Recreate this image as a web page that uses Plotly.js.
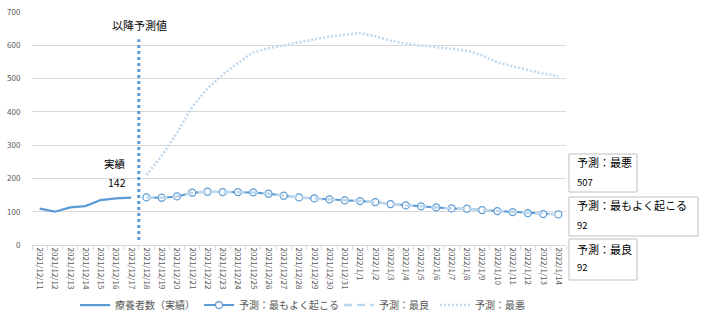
<!DOCTYPE html>
<html><head><meta charset="utf-8">
<script src="https://cdn.plot.ly/plotly-3.0.1.min.js"></script>
<style>html,body{margin:0;padding:0;background:#fff;}#chart{width:706px;height:318px;}</style>
</head><body><div id="chart"></div>
<script>
const dates = ["2021/12/11","2021/12/12","2021/12/13","2021/12/14","2021/12/15","2021/12/16","2021/12/17",
  "2021/12/18","2021/12/19","2021/12/20","2021/12/21","2021/12/22","2021/12/23","2021/12/24","2021/12/25",
  "2021/12/26","2021/12/27","2021/12/28","2021/12/29","2021/12/30","2021/12/31",
  "2022/1/1","2022/1/2","2022/1/3","2022/1/4","2022/1/5","2022/1/6","2022/1/7","2022/1/8","2022/1/9",
  "2022/1/10","2022/1/11","2022/1/12","2022/1/13","2022/1/14"];
const actualDates = dates.slice(0, 7);
const forecastDates = dates.slice(7);
const actual = [109, 100, 113, 117, 135, 140, 142];
const likely = [143, 142, 146, 157, 160, 159, 159, 158, 154, 148, 143, 140, 137, 134, 132, 129, 123, 119, 116, 113, 110, 109, 105, 102, 99, 96, 93, 92];
const best   = [143, 142, 146, 157, 160, 159, 159, 158, 154, 148, 143, 140, 137, 134, 132, 129, 123, 119, 116, 113, 110, 109, 105, 102, 99, 96, 93, 92];
const worst  = [210, 268, 336, 415, 470, 512, 547, 579, 591, 600, 611, 618, 626, 632, 637, 627, 614, 605, 600, 594, 588, 584, 570, 548, 537, 525, 515, 507];
const names = ["療養者数（実績）", "予測：最もよく起こる", "予測：最良", "予測：最悪"];

const W = 706, H = 318, L = 32, R = 140, T = 12, B = 73;
const pw = W - L - R, ph = H - T - B;
const px = v => (v - L) / pw;
const py = v => (H - B - v) / ph;

const blue = "#5B9BD5", light = "#BDD7EE";
const jp = "Noto Sans CJK JP";

const traces = [
  {x: actualDates, y: actual, name: names[0], type: "scatter", mode: "lines", legend: "legend",
   line: {color: blue, width: 2.25}},
  {x: forecastDates, y: likely, name: names[1], type: "scatter", mode: "lines+markers", legend: "legend2",
   line: {color: blue, width: 2},
   marker: {symbol: "circle", size: 7, color: "#ffffff", line: {color: blue, width: 1.25}}},
  {x: forecastDates, y: best, name: names[2], type: "scatter", mode: "lines", legend: "legend3",
   line: {color: light, width: 2.5, dash: "8px,5px"}},
  {x: forecastDates, y: worst, name: names[3], type: "scatter", mode: "lines", legend: "legend4",
   line: {color: light, width: 2.5, dash: "2px,2px"}}
];

const last = a => a[a.length - 1];
const boxes = [
  {x0: 569, x1: 637, y0: 154, y1: 192, title: names[3], val: last(worst), ty: 162, vy: 182},
  {x0: 569, x1: 698, y0: 197, y1: 236, title: names[1], val: last(likely), ty: 205, vy: 225},
  {x0: 569, x1: 637, y0: 239, y1: 280, title: names[2], val: last(best), ty: 249, vy: 267}
];

const shapes = [
  {type: "line", xref: "x", yref: "y", x0: 6.5, x1: 6.5, y0: 15, y1: 618,
   line: {color: blue, width: 3, dash: "3px,3px"}}
];
const annotations = [
  {xref: "paper", yref: "paper", x: px(139), y: py(25), text: "以降予測値", showarrow: false,
   xanchor: "center", yanchor: "middle", font: {family: jp, size: 11, color: "#000"}},
  {xref: "paper", yref: "paper", x: px(128), y: py(163), text: "実績", showarrow: false,
   xanchor: "right", yanchor: "middle", font: {family: jp, size: 10.5, color: "#000"}},
  {xref: "paper", yref: "paper", x: px(128), y: py(182), text: String(last(actual)), showarrow: false,
   xanchor: "right", yanchor: "middle", font: {family: jp, size: 10.5, color: "#000"}}
];
boxes.forEach(b => {
  shapes.push({type: "rect", xref: "paper", yref: "paper", x0: px(b.x0), x1: px(b.x1), y0: py(b.y1), y1: py(b.y0),
    line: {color: "#bfbfbf", width: 1}, fillcolor: "#ffffff"});
  annotations.push({xref: "paper", yref: "paper", x: px(b.x0 + 6), y: py(b.ty), text: b.title, showarrow: false,
    xanchor: "left", yanchor: "middle", font: {family: jp, size: 11, color: "#000"}});
  annotations.push({xref: "paper", yref: "paper", x: px(b.x0 + 6), y: py(b.vy), text: String(b.val), showarrow: false,
    xanchor: "left", yanchor: "middle", font: {family: jp, size: 9.5, color: "#000"}});
});

const legendText = [113, 237, 377, 473];
const mkLegend = t => ({orientation: "h", x: px(t - 38), xanchor: "left", y: py(305), yanchor: "middle",
  font: {family: jp, size: 10, color: "#595959"}, itemwidth: 30, bgcolor: "rgba(0,0,0,0)", borderwidth: 0});

const layout = {
  width: W, height: H,
  margin: {l: L, r: R, t: T, b: B, pad: 0, autoexpand: false},
  paper_bgcolor: "#ffffff", plot_bgcolor: "#ffffff",
  font: {family: jp, color: "#595959"},
  showlegend: true,
  legend: mkLegend(legendText[0]),
  legend2: mkLegend(legendText[1]),
  legend3: mkLegend(legendText[2]),
  legend4: mkLegend(legendText[3]),
  xaxis: {type: "category", categoryorder: "array", categoryarray: dates, automargin: false,
    range: [-0.5, dates.length - 0.5], tickangle: 90, tickson: "boundaries",
    ticks: "outside", ticklen: 4, tickcolor: "#d9d9d9", showline: true, linecolor: "#d9d9d9",
    linewidth: 1, showgrid: false, zeroline: false, fixedrange: true,
    tickfont: {family: jp, size: 8, color: "#595959"}},
  yaxis: {range: [0, 700], dtick: 100, tick0: 0, showgrid: true, gridcolor: "#d9d9d9", gridwidth: 1,
    zeroline: true, zerolinecolor: "#d9d9d9", showline: false, ticks: "outside", ticklen: 9, automargin: false,
    tickcolor: "rgba(0,0,0,0)", fixedrange: true,
    tickfont: {family: jp, size: 8, color: "#595959"}},
  shapes: shapes,
  annotations: annotations
};

Plotly.newPlot("chart", traces, layout, {displayModeBar: false, staticPlot: true});
</script>
</body></html>
